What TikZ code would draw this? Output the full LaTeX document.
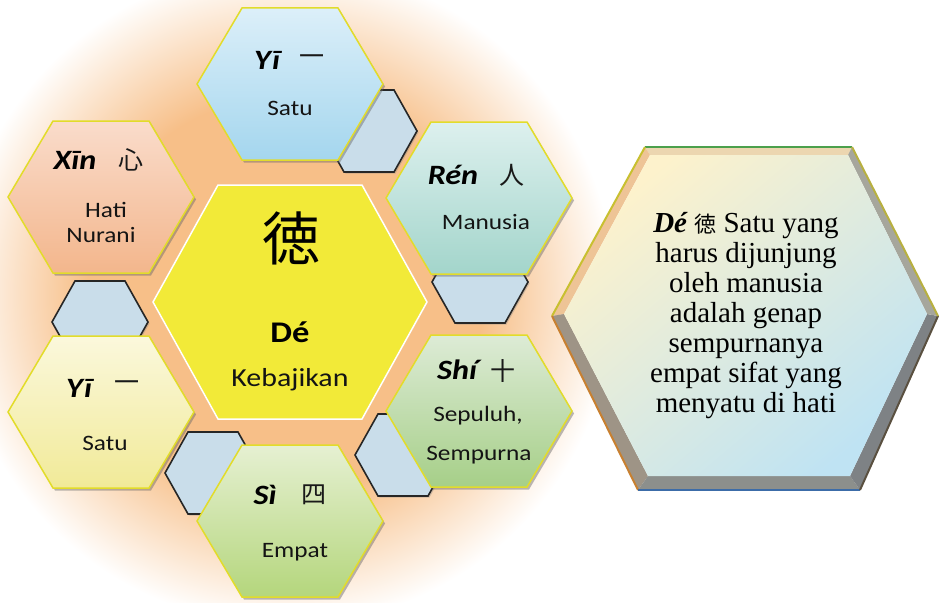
\documentclass[tikz,border=0pt]{standalone}
\usepackage{fontspec}
\setmainfont{Carlito}[FakeStretch=1.15]
\newfontfamily\cjkfont{Noto Sans CJK JP}
\newfontfamily\descfont{Liberation Serif}
\usetikzlibrary{shadows}
\definecolor{glowc}{HTML}{F7BF88}
\definecolor{hexborder}{HTML}{E2DC2A}
\definecolor{smallblue}{HTML}{C9DDEA}
\definecolor{centerY}{HTML}{F2EA38}
\definecolor{blueT}{HTML}{DCEFF9}\definecolor{blueB}{HTML}{A4D6EE}
\definecolor{peachT}{HTML}{FADCCB}\definecolor{peachB}{HTML}{F3B68C}
\definecolor{tealT}{HTML}{DDF0EE}\definecolor{tealB}{HTML}{A3D5CB}
\definecolor{greenT}{HTML}{DDEBD6}\definecolor{greenB}{HTML}{A6CF88}
\definecolor{paleT}{HTML}{FBF8DC}\definecolor{paleB}{HTML}{F1EA98}
\definecolor{limeT}{HTML}{E6F0D2}\definecolor{limeB}{HTML}{B4D67C}
\definecolor{creamF}{HTML}{FDF2CC}\definecolor{skyF}{HTML}{BFE3F3}
\pgfdeclareradialshading{orangeglow}{\pgfpoint{0bp}{0bp}}{color(0bp)=(glowc); color(15bp)=(glowc); color(25bp)=(white); color(50bp)=(white)}
\newcommand\hexp[5]{(#1-#3,#2) -- (#1-#4,#2-#5) -- (#1+#4,#2-#5) -- (#1+#3,#2) -- (#1+#4,#2+#5) -- (#1-#4,#2+#5) -- cycle}
\begin{document}
\begin{tikzpicture}[x=1pt,y=-1pt,
  smallhex/.style={fill=smallblue, draw=black!85, line width=1.6,
    drop shadow={shadow xshift=1.5pt, shadow yshift=-1.5pt, opacity=0.35}},
  bighex/.style={draw=hexborder, line width=1.5,
    drop shadow={shadow xshift=2pt, shadow yshift=-2.5pt, opacity=0.45, fill=black!60}},
  hexlbl/.style={inner sep=0pt, font=\fontsize{22}{25}\selectfont, text=black!92},
  pinyinlbl/.style={inner sep=0pt, font=\fontsize{28}{30}\selectfont\bfseries\itshape, text=black},
  hanzilbl/.style={inner sep=0pt, font=\fontsize{25}{28}\cjkfont, text=black!90}]
\useasboundingbox (0,0) rectangle (939,602);
\fill[white] (0,0) rectangle (939,602);
\begin{scope}
\clip (0,0) rectangle (939,602);
\shade[shading=orangeglow] (285,295) circle[radius=330];
\end{scope}
% small connector hexagons
\path[smallhex] \hexp{369}{131}{48}{25}{41};
\path[smallhex] \hexp{480}{282}{48}{25}{41};
\path[smallhex] \hexp{403}{455}{48}{25}{41};
\path[smallhex] \hexp{213}{473}{48}{25}{41};
\path[smallhex] \hexp{100}{322}{48}{25}{41};
% surrounding hexagons
\path[bighex, top color=blueT, bottom color=blueB] \hexp{290}{84}{93}{48}{76};
\path[bighex, top color=peachT, bottom color=peachB] \hexp{101}{197}{93}{48}{76};
\path[bighex, top color=tealT, bottom color=tealB] \hexp{479}{198}{93}{48}{76};
\path[bighex, top color=greenT, bottom color=greenB] \hexp{479}{411}{93}{48}{76};
\path[bighex, top color=paleT, bottom color=paleB] \hexp{101}{412}{93}{48}{76};
\path[bighex, top color=limeT, bottom color=limeB] \hexp{290}{521}{93}{48}{76};
% centre hexagon
\path[fill=centerY, draw=white, line width=1.5] \hexp{290}{302}{137}{72}{117};
% labels
\node[pinyinlbl] (yiA) at (267,60) {Yī};
\node[hanzilbl] (yiAh) at (312,60) {一};
\node[hexlbl] (satuA) at (290,108) {Satu};
\node[pinyinlbl] (xin) at (75,160) {Xīn};
\node[hanzilbl] (xinh) at (131,160) {心};
\node[hexlbl] (hati) at (106,210) {Hati};
\node[hexlbl] (nurani) at (101,235) {Nurani};
\node[pinyinlbl] (ren) at (453,175) {Rén};
\node[hanzilbl] (renh) at (512,175) {人};
\node[hexlbl] (manusia) at (486,222) {Manusia};
\node[pinyinlbl] (shi) at (457,370) {Shí};
\node[hanzilbl] (shih) at (503,371) {十};
\node[hexlbl] (sepuluh) at (478,416) {Sepuluh,};
\node[hexlbl] (sempurna) at (479,455) {Sempurna};
\node[pinyinlbl] (yiB) at (79,388) {Yī};
\node[hanzilbl] (yiBh) at (127,386) {一};
\node[hexlbl] (satuB) at (105,443) {Satu};
\node[pinyinlbl] (si) at (265,495) {Sì};
\node[hanzilbl] (sih) at (314,495) {四};
\node[hexlbl] (empat) at (295,552) {Empat};
\node[inner sep=0pt, font=\fontsize{58}{60}\cjkfont] (deh) at (291,238) {徳};
\node[inner sep=0pt, font=\fontsize{30}{32}\selectfont\bfseries] (de) at (290,332) {Dé};
\node[inner sep=0pt, font=\fontsize{26}{30}\selectfont, text=black!92] (kebajikan) at (290,380) {Kebajikan};
% right beveled hexagon
\coordinate (O1) at (552,316); \coordinate (O2) at (645,147); \coordinate (O3) at (852,147);
\coordinate (O4) at (938,316); \coordinate (O5) at (860,490); \coordinate (O6) at (638,490);
\coordinate (I1) at (564,314); \coordinate (I2) at (650,155); \coordinate (I3) at (848,155);
\coordinate (I4) at (927,314); \coordinate (I5) at (850,476); \coordinate (I6) at (648,476);
\fill[color={rgb,255:red,236;green,214;blue,176}] (O2) -- (O3) -- (I3) -- (I2) -- cycle;
\fill[color={rgb,255:red,238;green,196;blue,150}] (O1) -- (O2) -- (I2) -- (I1) -- cycle;
\fill[color={rgb,255:red,158;green,148;blue,134}] (O6) -- (O1) -- (I1) -- (I6) -- cycle;
\fill[color={rgb,255:red,140;green,143;blue,140}] (O5) -- (O6) -- (I6) -- (I5) -- cycle;
\fill[color={rgb,255:red,126;green,130;blue,133}] (O4) -- (O5) -- (I5) -- (I4) -- cycle;
\fill[color={rgb,255:red,166;green,166;blue,156}] (O3) -- (O4) -- (I4) -- (I3) -- cycle;
\shade[top color=creamF, bottom color=skyF, shading angle=40] (I1) -- (I2) -- (I3) -- (I4) -- (I5) -- (I6) -- cycle;
\draw[line width=2, color={rgb,255:red,76;green,160;blue,76}] (O2) -- (O3);
\draw[line width=2, color={rgb,255:red,200;green,192;blue,48}] (O1) -- (O2);
\draw[line width=2, color={rgb,255:red,200;green,128;blue,48}] (O6) -- (O1);
\draw[line width=2, color={rgb,255:red,60;green,108;blue,168}] (O5) -- (O6);
\draw[line width=2, color={rgb,255:red,90;green,80;blue,64}] (O4) -- (O5);
\draw[line width=2, color={rgb,255:red,184;green,176;blue,64}] (O3) -- (O4);
\node[inner sep=0pt, align=center, font=\fontsize{29}{30}\descfont, text=black] (desc) at (746,316)
  {{\bfseries\itshape Dé} {\fontsize{22}{30}\cjkfont 徳} Satu yang\\ harus dijunjung\\ oleh manusia\\ adalah genap\\ sempurnanya\\ empat sifat yang\\ menyatu di hati};
\end{tikzpicture}
\end{document}
